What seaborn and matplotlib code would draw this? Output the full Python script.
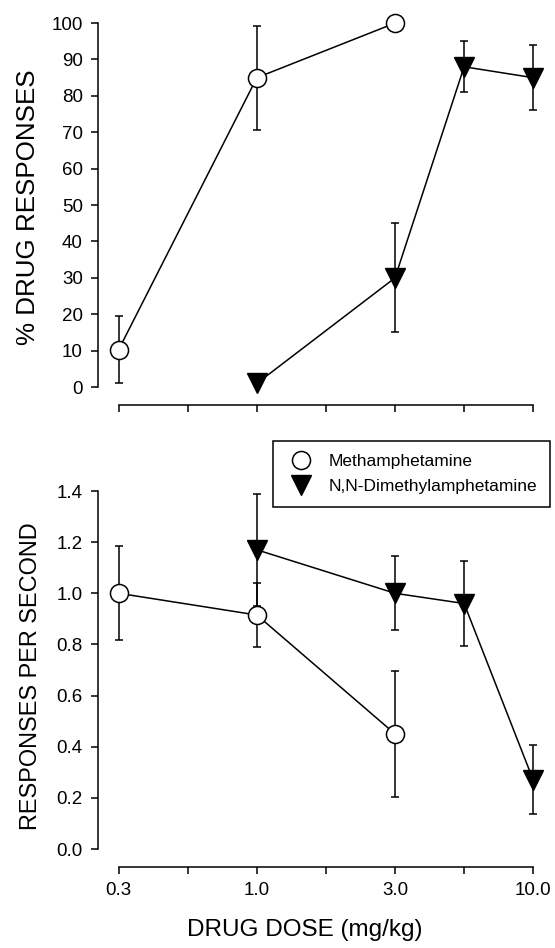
import numpy as np
import matplotlib
matplotlib.use("Agg")
import matplotlib.pyplot as plt
import seaborn as sns
from matplotlib.lines import Line2D

# dose steps (half-log steps), evenly spaced on the axis
doses = ["0.3", "0.56", "1.0", "1.7", "3.0", "5.6", "10.0"]
tick_labels = ["0.3", "", "1.0", "", "3.0", "", "10.0"]

# Methamphetamine
meth_doses = ["0.3", "1.0", "3.0"]
meth_pct = [10.3, 85, 100]
meth_pct_err = [9.1, 14.3, 0]
meth_rate = [1.0, 0.915, 0.45]
meth_rate_err = [0.184, 0.124, 0.245]

# N,N-Dimethylamphetamine
dma_doses = ["1.0", "3.0", "5.6", "10.0"]
dma_pct = [1, 30, 88, 85]
dma_pct_err = [0, 15, 7, 9]
dma_rate = [1.17, 1.0, 0.96, 0.27]
dma_rate_err = [0.22, 0.145, 0.168, 0.135]

sns.set_style("ticks", {"axes.edgecolor": "black", "xtick.color": "black",
                        "ytick.color": "black", "text.color": "black",
                        "axes.labelcolor": "black"})
plt.rcParams["font.family"] = ["Liberation Sans", "DejaVu Sans"]

fig = plt.figure(figsize=(5.55, 9.48), dpi=100)
W, H = 555, 948
ax1 = fig.add_axes([98 / W, 1 - 405.2 / H, 449 / W, 395.2 / H])
ax2 = fig.add_axes([98 / W, 1 - 866.9 / H, 449 / W, 431.9 / H])

xm = [doses.index(d) for d in meth_doses]
xd = [doses.index(d) for d in dma_doses]


def draw(ax, ym, em, yd, ed):
    for x, y, e in [(xm, ym, em), (xd, yd, ed)]:
        ax.errorbar(x, y, yerr=e, fmt="none", ecolor="black", elinewidth=1.1,
                    capsize=3, capthick=1.1, zorder=1)
    sns.lineplot(x=xm, y=ym, ax=ax, color="black", lw=1.1, marker="o",
                 markersize=13, markerfacecolor="white", markeredgecolor="black",
                 markeredgewidth=1.1, zorder=3)
    sns.lineplot(x=xd, y=yd, ax=ax, color="black", lw=1.1, marker="v",
                 markersize=14, markerfacecolor="black", markeredgecolor="black",
                 markeredgewidth=1.0, zorder=3)
    ax.set_xlim(-0.3, 6.2)
    ax.set_xticks(range(len(doses)))
    sns.despine(ax=ax)
    ax.spines["bottom"].set_bounds(0, 6)
    for s in ["left", "bottom"]:
        ax.spines[s].set_linewidth(1.1)
    ax.tick_params(direction="out", length=5, width=1.1, labelsize=13.5, pad=6)


# top panel: % drug responses
draw(ax1, meth_pct, meth_pct_err, dma_pct, dma_pct_err)
ax1.set_ylim(-5, 103.6)
ax1.set_yticks(range(0, 101, 10))
ax1.spines["left"].set_bounds(0, 100)
ax1.set_xticklabels([])
ax1.set_ylabel("% DRUG RESPONSES", fontsize=18.7)
ax1.yaxis.set_label_coords(-0.129, 0.500)

# bottom panel: response rate
draw(ax2, meth_rate, meth_rate_err, dma_rate, dma_rate_err)
ax2.set_ylim(-0.07, 1.619)
ax2.set_yticks(np.arange(0, 1.41, 0.2))
ax2.set_yticklabels([f"{v:.1f}" for v in np.arange(0, 1.41, 0.2)])
ax2.spines["left"].set_bounds(0, 1.4)
ax2.set_xticklabels(tick_labels)
ax2.set_ylabel("RESPONSES PER SECOND", fontsize=16.9)
ax2.yaxis.set_label_coords(-0.125, 0.442)
ax2.set_xlabel("DRUG DOSE (mg/kg)", fontsize=17.5)
ax2.xaxis.set_label_coords(0.461, -0.121)

handles = [
    Line2D([], [], ls="none", marker="o", markersize=13, markerfacecolor="white",
           markeredgecolor="black", markeredgewidth=1.1),
    Line2D([], [], ls="none", marker="v", markersize=14, markerfacecolor="black",
           markeredgecolor="black"),
]
leg = ax2.legend(handles, ["Methamphetamine", "N,N-Dimethylamphetamine"],
                 loc="upper right", bbox_to_anchor=(550 / W, 1 - 441 / H),
                 bbox_transform=fig.transFigure, borderaxespad=0,
                 fontsize=12.5, frameon=True, fancybox=False, framealpha=1,
                 edgecolor="black", handlelength=1.7, handletextpad=0.71,
                 borderpad=0.75, labelspacing=0.55)
leg.get_frame().set_linewidth(1.1)

fig.savefig("out.png", dpi=100)
